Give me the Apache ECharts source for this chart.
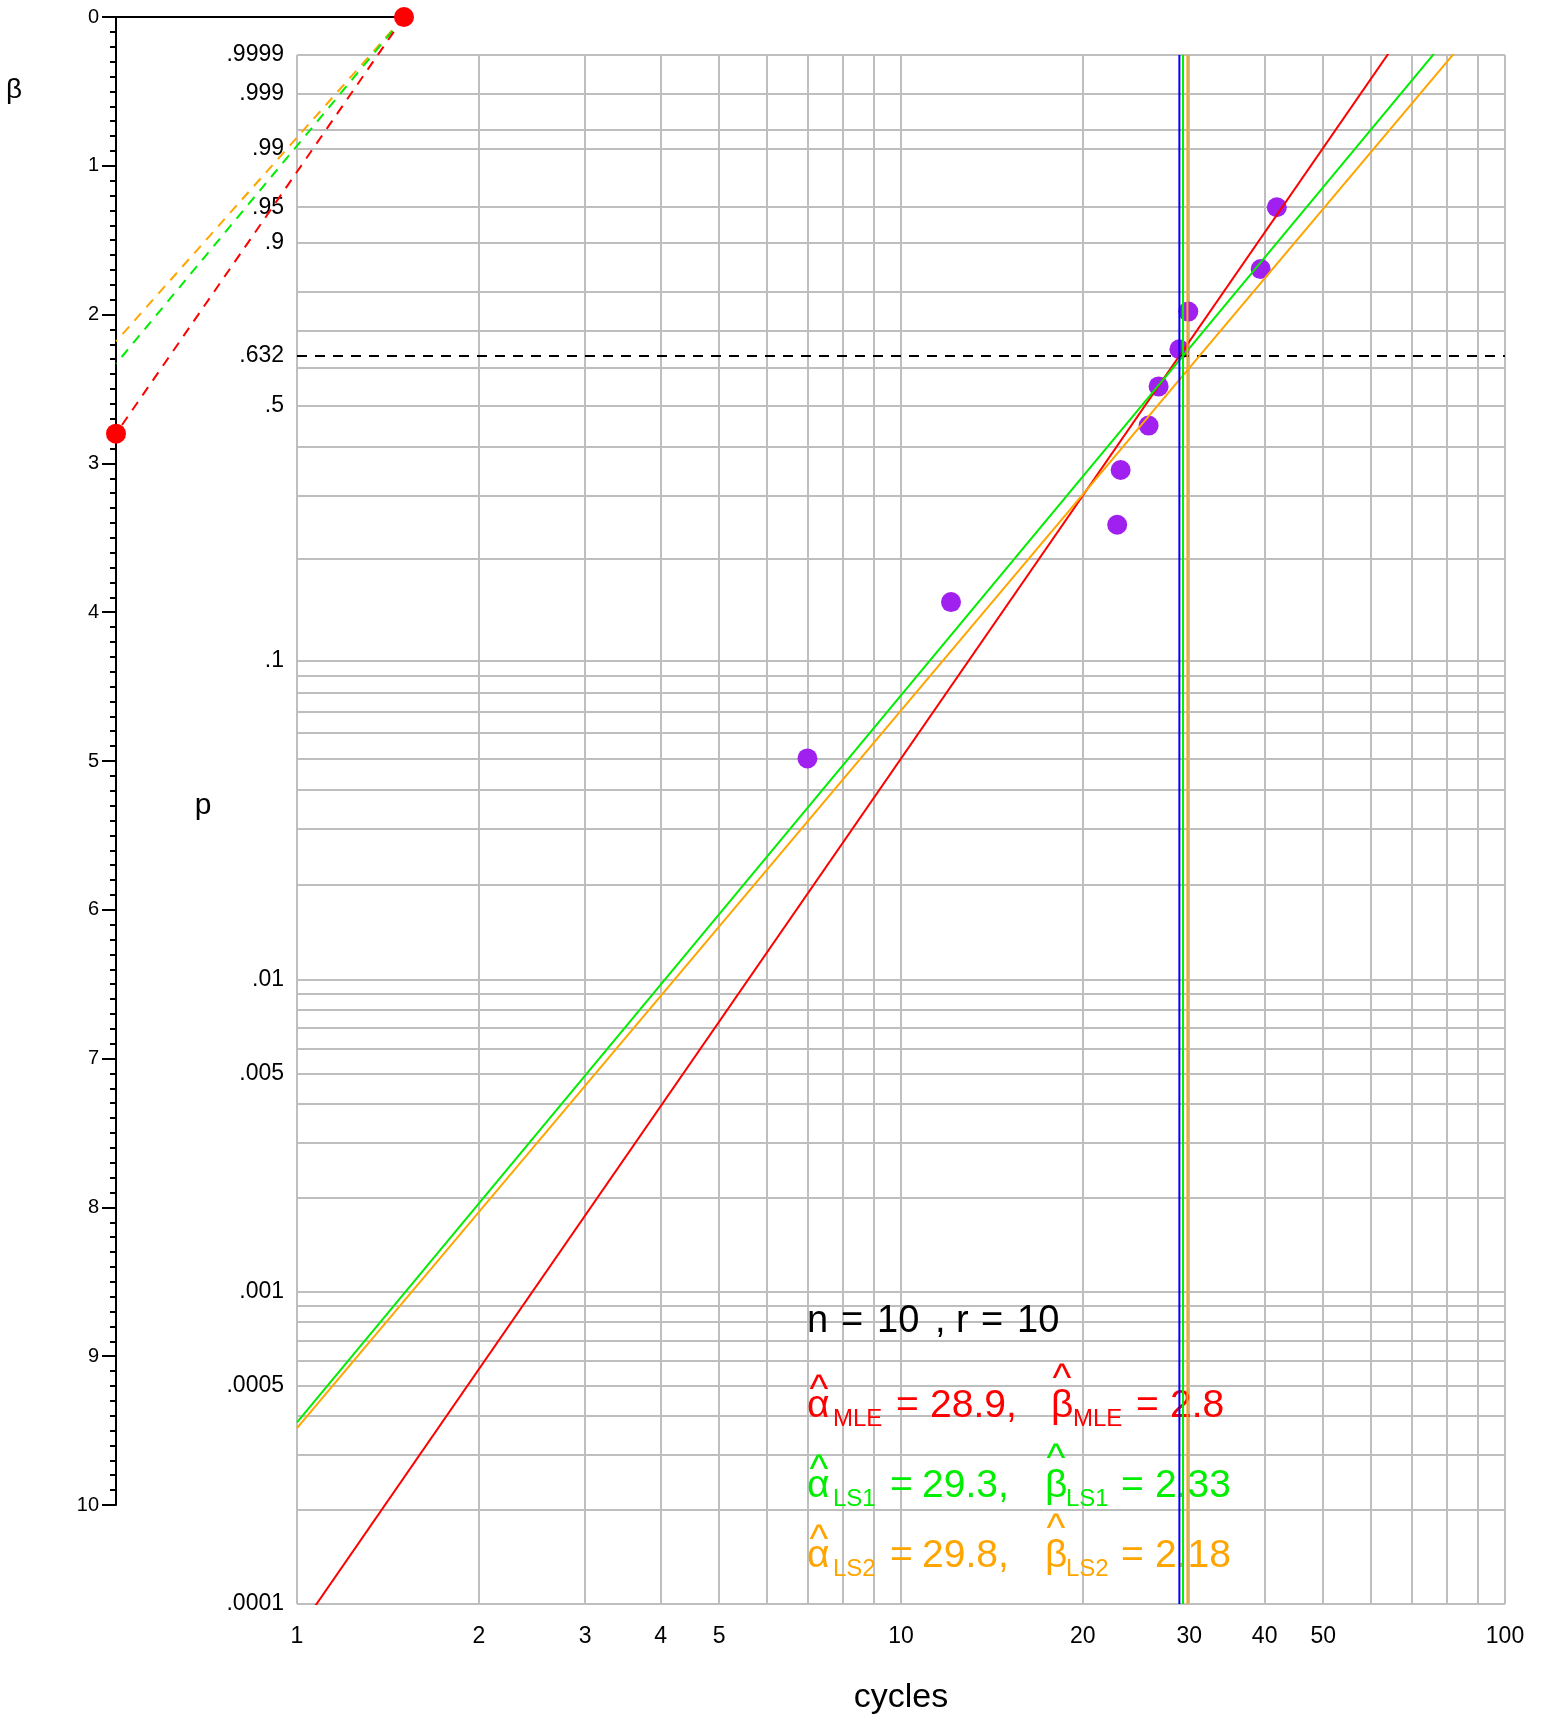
<!DOCTYPE html>
<html><head><meta charset="utf-8">
<script src="https://cdn.jsdelivr.net/npm/echarts@6/dist/echarts.min.js"></script>
<style>html,body{margin:0;padding:0;background:#fff}#c{width:1541px;height:1719px}</style>
</head><body><div id="c"></div>
<script>
// ---- data ----
const cycles = [7, 12.1, 22.8, 23.1, 25.7, 26.7, 28.9, 29.9, 39.4, 41.9];
const probs = [0.05, 0.15, 0.25, 0.35, 0.45, 0.55, 0.65, 0.75, 0.85, 0.95];
const fitNames = ['MLE', 'LS1', 'LS2'];
const alphaHat = [28.9, 29.3, 29.8];          // printed estimates, vertical lines
const betaHat = [2.8, 2.33, 2.18];            // printed estimates, nomograph
const lineAlpha = [28.9, 29.3, 31.2];         // drawn fitted lines
const lineBeta = [2.8, 2.33, 2.30];
const nObs = 10, rObs = 10;
const fitColors = ['#FF0000', '#00EE00', '#FFA500'];
const alphaLineColors = ['#0000FF', '#00EE00', '#FFA500'];
const xTickLabels = [1, 2, 3, 4, 5, 10, 20, 30, 40, 50, 100];
const xGridValues = [1, 2, 3, 4, 5, 6, 7, 8, 9, 10, 20, 30, 40, 50, 60, 70, 80, 90, 100];
const pTickLabels = ['.0001', '.0005', '.001', '.005', '.01', '.1', '.5', '.632', '.9', '.95', '.99', '.999', '.9999'];
const pGridValues = [0.0001, 0.0002, 0.0003, 0.0004, 0.0005, 0.0006, 0.0007, 0.0008, 0.0009,
  0.001, 0.002, 0.003, 0.004, 0.005, 0.006, 0.007, 0.008, 0.009,
  0.01, 0.02, 0.03, 0.04, 0.05, 0.06, 0.07, 0.08, 0.09,
  0.1, 0.2, 0.3, 0.4, 0.5, 0.6, 0.7, 0.8, 0.9, 0.95, 0.99, 0.995, 0.999, 0.9999];
const pCharacteristic = 0.632;
const betaAxisMax = 10;

// Weibull probability transform
const Yt = p => Math.log(-Math.log(1 - p));
const yMin = Yt(0.0001), yMax = Yt(0.9999);
const xMin = xTickLabels[0], xMax = xTickLabels[xTickLabels.length - 1];

const FONT = '"Liberation Sans", Arial, sans-serif';

const series = [];
series.push({
  type: 'scatter', xAxisIndex: 0, yAxisIndex: 0, z: 2,
  data: cycles.map((c, i) => [c, Yt(probs[i])]),
  symbolSize: 20, itemStyle: { color: '#A020F0', opacity: 1 }
});
series.push({
  type: 'line', xAxisIndex: 0, yAxisIndex: 0, z: 3, symbol: 'none',
  data: [[xMin, Yt(pCharacteristic)], [xMax, Yt(pCharacteristic)]],
  lineStyle: { color: '#000', width: 2, type: [10, 8] }
});
fitNames.forEach((nm, i) => {
  series.push({
    type: 'line', xAxisIndex: 0, yAxisIndex: 0, z: 4, symbol: 'none', clip: true,
    data: [[xMin, lineBeta[i] * Math.log(xMin / lineAlpha[i])], [xMax, lineBeta[i] * Math.log(xMax / lineAlpha[i])]],
    lineStyle: { color: fitColors[i], width: 2 }
  });
});
fitNames.forEach((nm, i) => {
  series.push({
    type: 'line', xAxisIndex: 0, yAxisIndex: 0, z: 5, symbol: 'none',
    data: [[alphaHat[i], yMin], [alphaHat[i], yMax]],
    lineStyle: { color: alphaLineColors[i], width: 2 }
  });
});
// nomograph for beta
fitNames.slice().reverse().forEach((nm, k) => {
  const i = fitNames.length - 1 - k;
  series.push({
    type: 'line', xAxisIndex: 1, yAxisIndex: 1, z: 4, symbol: 'none', clip: false,
    data: [[1, 0], [0, betaHat[i]]],
    lineStyle: { color: fitColors[i], width: 2, type: [10, 8] }
  });
});
series.push({
  type: 'scatter', xAxisIndex: 1, yAxisIndex: 1, z: 6, clip: false,
  data: [[1, 0], [0, betaHat[0]]],
  symbolSize: 20, itemStyle: { color: '#FF0000', opacity: 1 }
});

// ---- text annotations ----
const graphics = [];
function txt(t, x, baseline, size, color, align) {
  graphics.push({
    type: 'text', x: x, y: baseline - 0.31 * size, z: 1,
    style: { text: t, font: size + 'px ' + FONT, fill: color,
      textAlign: align || 'left', align: align || 'left',
      textVerticalAlign: 'middle', verticalAlign: 'middle' }
  });
}
function hat(cx, cy, color) {
  graphics.push({
    type: 'text', x: cx, y: cy, z: 1,
    style: { text: '^', font: '40px ' + FONT, fill: color,
      textAlign: 'center', align: 'center', textVerticalAlign: 'middle', verticalAlign: 'middle' }
  });
}
// n, r line
const nb = 1333, ns = 38;
txt('n', 807, nb, ns, '#000');
txt('=', 841, nb, ns, '#000');
txt(String(nObs), 877, nb, ns, '#000');
txt(',', 935, nb, ns, '#000');
txt('r', 956, nb, ns, '#000');
txt('=', 981, nb, ns, '#000');
txt(String(rObs), 1017, nb, ns, '#000');

const rowBase = [1418, 1498, 1568];
const rowX = [
  { a: 807, as: 833, eq1: 896, av: 930, b: 1051, bs: 1073, eq2: 1136, bv: 1170 },
  { a: 807, as: 833, eq1: 890, av: 922, b: 1045, bs: 1066, eq2: 1121, bv: 1155 },
  { a: 807, as: 833, eq1: 890, av: 922, b: 1045, bs: 1066, eq2: 1121, bv: 1155 }
];
fitNames.forEach((nm, i) => {
  const b = rowBase[i], X = rowX[i], col = fitColors[i];
  const ms = 39, ss = 24;
  txt('α', X.a, b, ms, col);
  txt(nm, X.as, b + 9, ss, col);
  txt('=', X.eq1, b, ms, col);
  txt(alphaHat[i] + ',', X.av, b, ms, col);
  txt('β', X.b, b, ms, col);
  txt(nm, X.bs, b + 9, ss, col);
  txt('=', X.eq2, b, ms, col);
  txt(String(betaHat[i]), X.bv, b, ms, col);
  hat(X.a + 12, b - 27, col);
  hat(X.b + 11, b - 38, col);
});
// axis titles
graphics.push({ type: 'text', x: 14, y: 90, z: 1, style: { text: 'β', font: '28px ' + FONT, fill: '#000', textAlign: 'center', align: 'center', textVerticalAlign: 'middle', verticalAlign: 'middle' } });
graphics.push({ type: 'text', x: 203, y: 806, z: 1, style: { text: 'p', font: '30px ' + FONT, fill: '#000', textAlign: 'center', align: 'center', textVerticalAlign: 'middle', verticalAlign: 'middle' } });
graphics.push({ type: 'text', x: 901, y: 1698, z: 1, style: { text: 'cycles', font: '34px ' + FONT, fill: '#000', textAlign: 'center', align: 'center', textVerticalAlign: 'middle', verticalAlign: 'middle' } });

const gridLine = { show: true, lineStyle: { color: '#BEBEBE', width: 2 } };

const option = {
  animation: false,
  backgroundColor: '#fff',
  textStyle: { fontFamily: FONT },
  grid: [
    { left: 297, top: 55, width: 1208, height: 1549, outerBoundsMode: 'none', containLabel: false },
    { left: 116, top: 17, width: 288, height: 1488, outerBoundsMode: 'none', containLabel: false }
  ],
  xAxis: [
    {
      type: 'log', logBase: 10, gridIndex: 0, min: xMin, max: xMax,
      axisLine: { show: false },
      axisTick: { show: false, customValues: xGridValues },
      axisLabel: { customValues: xTickLabels, fontSize: 23, color: '#000', margin: 21, fontFamily: FONT,
        formatter: v => String(Math.round(v)) },
      splitLine: gridLine, minorSplitLine: { show: false }
    },
    {
      type: 'value', gridIndex: 1, min: 0, max: 1, position: 'top',
      axisLine: { show: true, onZero: false, lineStyle: { color: '#000', width: 2 } },
      axisTick: { show: false }, axisLabel: { show: false }, splitLine: { show: false }
    }
  ],
  yAxis: [
    {
      type: 'value', gridIndex: 0, min: yMin, max: yMax,
      axisLine: { show: false },
      axisTick: { show: false, customValues: pGridValues.map(Yt) },
      axisLabel: { customValues: pTickLabels.map(s => Yt(parseFloat(s))), fontSize: 23, color: '#000', margin: 13, fontFamily: FONT,
        formatter: v => { const f = pTickLabels.find(s => Math.abs(Yt(parseFloat(s)) - v) < 1e-6); return f || ''; } },
      splitLine: gridLine
    },
    {
      type: 'value', gridIndex: 1, min: 0, max: betaAxisMax, interval: 1, inverse: true, position: 'left',
      axisLine: { show: true, onZero: false, lineStyle: { color: '#000', width: 2 } },
      axisTick: { show: true, length: 14, lineStyle: { color: '#000', width: 2 } },
      minorTick: { show: true, splitNumber: 10, length: 6, lineStyle: { color: '#000', width: 2 } },
      axisLabel: { show: true, fontSize: 20, color: '#000', margin: 17, fontFamily: FONT },
      splitLine: { show: false }
    }
  ],
  graphic: { elements: graphics },
  series: series
};
const chart = echarts.init(document.getElementById('c'), null, { renderer: 'canvas' });
chart.setOption(option);
</script>
</body></html>
